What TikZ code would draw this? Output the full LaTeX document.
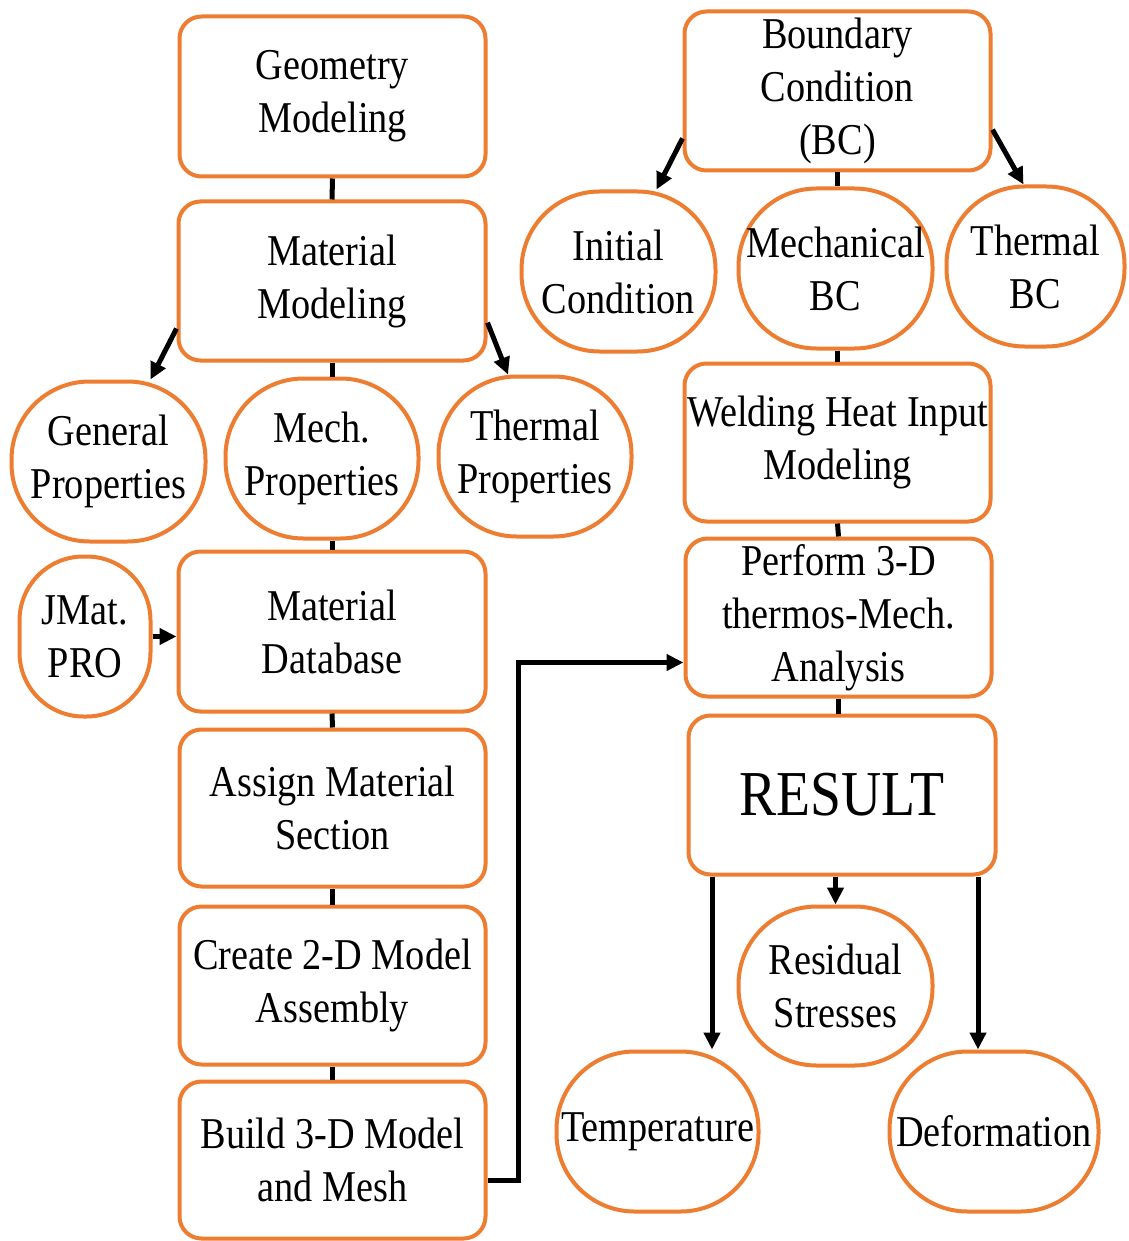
\documentclass[tikz,border=0pt]{standalone}
\usepackage{fontspec}
\setmainfont{Liberation Serif}[FakeStretch=0.87]
\usetikzlibrary{arrows.meta}
\definecolor{org}{RGB}{237,125,49}
\begin{document}
\begin{tikzpicture}[x=1pt,y=-1pt,
  every node/.style={font=\fontsize{44}{53}\selectfont, align=center, inner sep=0pt},
  box/.style={draw=org, line width=4pt, rounded corners=22pt, fill=white},
  oval/.style={draw=org, line width=4pt, rounded corners=78pt, fill=white},
  link/.style={line width=5pt},
  arr/.style={line width=5pt, -{Triangle[length=17pt,width=16pt]}}]
\fill[white] (0,0) rectangle (1128,1241);
\useasboundingbox (0,0) rectangle (1128,1241);
% left column
\node[box, minimum width=306pt, minimum height=160pt] (geo) at (332.5,96.5) {Geometry\\Modeling};
\node[box, minimum width=307pt, minimum height=159pt] (matmod) at (332,281) {Material\\Modeling};
\node[oval, minimum width=194pt, minimum height=160pt] (gp) at (108.5,461.5) {General\\Properties};
\node[oval, minimum width=193pt, minimum height=160pt] (mp) at (322,458.5) {Mech.\\Properties};
\node[oval, minimum width=193pt, minimum height=160pt] (tp) at (535,456.5) {Thermal\\Properties};
\node[oval, rounded corners=64pt, minimum width=131pt, minimum height=160pt] (jm) at (85,636.5) {JMat.\\PRO};
\node[box, minimum width=307pt, minimum height=160pt] (db) at (332,631.5) {Material\\Database};
\node[box, minimum width=306pt, minimum height=157pt] (asg) at (332.5,808) {Assign Material\\Section};
\node[box, minimum width=306pt, minimum height=158pt] (cr) at (332.5,985.5) {Create 2-D Model\\Assembly};
\node[box, minimum width=306pt, minimum height=157pt] (bld) at (332.5,1160) {Build 3-D Model\\and Mesh};
% right column
\node[box, minimum width=306pt, minimum height=159pt] (bc) at (837.5,91) {Boundary\\Condition\\(BC)};
\node[oval, minimum width=194pt, minimum height=160pt] (ic) at (618.5,271.5) {Initial\\Condition};
\node[oval, minimum width=194pt, minimum height=160pt] (mbc) at (835.5,268.5) {Mechanical\\BC};
\node[oval, minimum width=178pt, minimum height=160pt] (tbc) at (1035.5,266.5) {Thermal\\BC};
\node[box, minimum width=306pt, minimum height=158pt] (wh) at (837.5,442.5) {Welding Heat Input\\Modeling};
\node[box, minimum width=306pt, minimum height=158pt] (pf) at (838.5,617.5) {Perform 3-D\\thermos-Mech.\\Analysis};
\node[box, minimum width=307pt, minimum height=159pt, font=\fontsize{64}{70}\selectfont] (res) at (842,795) {RESULT};
\node[oval, minimum width=194pt, minimum height=159pt] (rs) at (835.5,986) {Residual\\Stresses};
\node[oval, minimum width=202pt, minimum height=160pt] (tmp) at (657.5,1131.5) {Temperature};
\node[oval, minimum width=209pt, minimum height=160pt] (def) at (994,1131.5) {Deformation};
% plain links
\draw[link] (geo.south) -- (matmod.north);
\draw[link] (matmod.south) -- (matmod.south |- mp.north);
\draw[link] (db.north |- mp.south) -- (db.north);
\draw[link] (db.south) -- (asg.north);
\draw[link] (asg.south) -- (cr.north);
\draw[link] (cr.south) -- (bld.north);
\draw[link] (bc.south) -- (bc.south |- mbc.north);
\draw[link] (wh.north |- mbc.south) -- (wh.north);
\draw[link] (wh.south) -- (pf.north);
\draw[link] (pf.south) -- (pf.south |- res.north);
% arrows
\draw[arr] (matmod.197) -- ([xshift=42pt]gp.north);
\draw[arr] (matmod.-15) -- ([xshift=-27pt]tp.north);
\draw[arr] (bc.197) -- ([xshift=38pt]ic.north);
\draw[arr] (bc.-14) -- ([xshift=-12pt]tbc.north);
\draw[arr] (jm.east) -- (jm.east -| db.west);
\draw[arr] ([yshift=-20pt]bld.east) -- ++(31,0) |- ([yshift=-45pt]pf.west);
\draw[arr] ([xshift=-130pt]res.south) -- ([xshift=-130pt]res.south |- tmp.north);
\draw[arr] (rs.north |- res.south) -- (rs.north);
\draw[arr] ([xshift=136pt]res.south) -- ([xshift=136pt]res.south |- def.north);
\end{tikzpicture}
\end{document}
